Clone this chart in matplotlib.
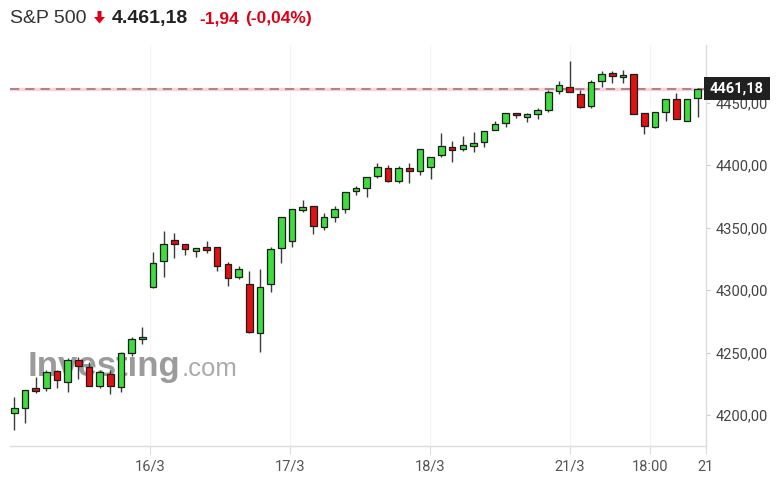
import matplotlib
matplotlib.use("Agg")
import matplotlib.pyplot as plt
from matplotlib.patches import Rectangle, Polygon
import matplotlib.transforms as mtransforms

# ---- data ----
opens = [4201.6, 4205.6, 4221.8, 4222.1, 4235.2, 4226.4, 4244.0, 4238.4, 4223.4, 4233.0,
         4222.4, 4249.6, 4260.8, 4302.4, 4323.7, 4340.0, 4336.8, 4331.7, 4334.6, 4334.9,
         4320.8, 4310.4, 4304.8, 4265.6, 4304.8, 4333.6, 4339.7, 4364.2, 4367.7, 4350.4,
         4358.4, 4365.3, 4379.4, 4381.6, 4391.4, 4397.6, 4387.4, 4397.8, 4395.7, 4398.4,
         4408.2, 4414.9, 4413.3, 4415.2, 4418.6, 4428.2, 4433.6, 4441.8, 4438.6, 4440.8,
         4444.2, 4459.7, 4462.6, 4456.8, 4447.4, 4467.7, 4473.6, 4470.4, 4472.8, 4441.6,
         4430.4, 4442.4, 4452.8, 4435.7, 4453.6]
highs = [4214.4, 4220.2, 4230.4, 4236.0, 4236.0, 4246.1, 4246.9, 4242.9, 4236.2, 4236.2,
         4249.6, 4262.9, 4270.4, 4330.4, 4347.4, 4345.6, 4336.8, 4334.1, 4339.4, 4334.9,
         4322.4, 4319.2, 4315.4, 4316.8, 4334.9, 4358.9, 4364.8, 4372.2, 4367.7, 4361.6,
         4367.4, 4378.9, 4383.4, 4390.9, 4401.6, 4400.2, 4399.0, 4401.6, 4412.8, 4406.9,
         4425.6, 4419.4, 4423.4, 4426.6, 4427.7, 4435.4, 4441.6, 4441.8, 4442.1, 4446.1,
         4460.2, 4467.7, 4483.4, 4460.2, 4468.2, 4475.7, 4475.7, 4476.5, 4472.8, 4441.6,
         4442.9, 4452.8, 4457.6, 4452.8, 4461.6]
lows = [4188.2, 4194.1, 4218.1, 4219.7, 4221.6, 4218.9, 4228.8, 4223.5, 4221.6, 4217.0,
        4218.9, 4247.4, 4256.8, 4301.6, 4310.9, 4326.1, 4328.2, 4326.9, 4330.1, 4315.7,
        4303.7, 4308.8, 4265.6, 4250.9, 4298.9, 4322.1, 4334.9, 4362.9, 4345.0, 4348.2,
        4354.9, 4362.1, 4376.2, 4374.9, 4389.6, 4386.9, 4386.0, 4386.1, 4392.2, 4388.8,
        4406.9, 4402.9, 4411.7, 4410.9, 4414.9, 4428.2, 4430.9, 4437.6, 4434.9, 4436.8,
        4442.9, 4457.0, 4458.4, 4445.6, 4445.6, 4462.4, 4466.1, 4466.1, 4440.8, 4424.8,
        4429.6, 4435.7, 4436.8, 4435.7, 4438.9]
closes = [4205.8, 4220.0, 4219.4, 4234.6, 4228.2, 4244.0, 4239.7, 4223.7, 4234.9, 4223.7,
          4249.6, 4260.8, 4262.9, 4321.6, 4336.8, 4336.8, 4332.8, 4334.1, 4332.5, 4319.7,
          4309.6, 4317.0, 4266.9, 4302.9, 4333.0, 4358.9, 4364.8, 4366.9, 4351.4, 4358.4,
          4364.8, 4378.9, 4381.8, 4390.9, 4398.9, 4387.4, 4397.6, 4395.7, 4412.8, 4406.9,
          4415.7, 4412.5, 4416.0, 4418.1, 4427.7, 4432.8, 4441.6, 4440.0, 4441.0, 4444.0,
          4458.6, 4464.0, 4458.4, 4446.9, 4466.9, 4472.8, 4471.7, 4472.5, 4441.0, 4431.4,
          4442.9, 4452.8, 4436.8, 4452.8, 4461.18]

x_tick_index = [12.7, 25.8, 38.9, 52.0, 59.5, 64.75]
x_tick_labels = ["16/3", "17/3", "18/3", "21/3", "18:00", "21"]
y_ticks = [4200, 4250, 4300, 4350, 4400, 4450]

last_price = 4461.18
header_name = "S&P 500"
header_price = "4.461,18"
header_change = "-1,94"
header_pct = "(-0,04%)"

# ---- figure ----
W, H = 777, 499
fig = plt.figure(figsize=(W / 100, H / 100), dpi=100)
fig.patch.set_facecolor("white")

left, right, top, bottom = 10, 706, 45, 446
ax = fig.add_axes([left / W, 1 - bottom / H, (right - left) / W, (bottom - top) / H])
ax.set_facecolor("white")

n = len(closes)
ax.set_xlim(-0.4, 64.77)
ax.set_ylim(4175.4, 4496.2)

GREEN = "#3fdc3f"
RED = "#de1212"

for i in range(n):
    o, h, l, c = opens[i], highs[i], lows[i], closes[i]
    up = c >= o
    ax.vlines(i, l, h, color="#3a3a3a", lw=1.0, zorder=3)
    lo_b, hi_b = min(o, c), max(o, c)
    if hi_b - lo_b < 1.8:
        mid = (hi_b + lo_b) / 2
        lo_b, hi_b = mid - 0.9, mid + 0.9
    ax.add_patch(Rectangle((i - 0.31, lo_b), 0.62, hi_b - lo_b,
                           facecolor=GREEN if up else RED, edgecolor="#1c1c1c",
                           lw=0.9, zorder=4))

# last price line
ax.axhline(last_price, color="#f6d4da", lw=2.4, zorder=2)
ax.axhline(last_price, color="#9c6c76", lw=1.1, dashes=(6, 4), zorder=2)

# faint vertical grid at ticks
for xv in x_tick_index[:-1]:
    ax.axvline(xv, color="#f5f5f5", lw=0.8, zorder=1)

# axes styling
for s in ["left", "top"]:
    ax.spines[s].set_visible(False)
for s in ["right", "bottom"]:
    ax.spines[s].set_color("#dcdcdc")
    ax.spines[s].set_linewidth(1.0)

ax.yaxis.tick_right()
ax.set_yticks(y_ticks)
ax.set_yticklabels([f"{v:.2f}".replace(".", ",") for v in y_ticks])
ax.tick_params(axis="y", length=3, color="#cccccc", pad=4, labelsize=10.5,
               labelcolor="#444444")
for t in ax.get_yticklabels():
    t.set_fontfamily("Roboto")

ax.set_xticks(x_tick_index)
ax.set_xticklabels(x_tick_labels)
ax.tick_params(axis="x", length=6, color="#dcdcdc", pad=4, labelsize=10.5,
               labelcolor="#555555")
for t in ax.get_xticklabels():
    t.set_fontfamily("Roboto")

# watermark
ax.text(0.026, 0.175, "Investing", transform=ax.transAxes, fontsize=25, fontweight="bold",
        family="Liberation Sans", color="#7a7a7a", alpha=0.75, zorder=2.5, va="baseline")
ax.text(0.247, 0.175, ".com", transform=ax.transAxes, fontsize=18.5,
        family="Liberation Sans", color="#8f8f8f", alpha=0.75, zorder=2.5, va="baseline")

# price label box on right axis
blend = mtransforms.blended_transform_factory(fig.transFigure, ax.transData)
box_h = 23 / 1.25
fig.add_artist(Rectangle((704 / W, last_price - box_h / 2), 66 / W, box_h,
                         transform=blend, facecolor="#202020", edgecolor="none",
                         zorder=5, clip_on=False))
fig.text(737 / W, last_price, "4461,18", transform=blend, color="white",
         fontsize=10.5, fontweight="bold", family="Roboto", ha="center", va="center",
         zorder=6)

# header
def fx(x):
    return x / W

def fy(y):
    return 1 - y / H

fig.text(fx(10), fy(23), header_name, fontsize=14, color="#333333",
         family="Liberation Sans", va="baseline")
arrow = [(97.5, 11), (101.5, 11), (101.5, 17), (105, 17), (99.5, 23.5), (94, 17), (97.5, 17)]
fig.add_artist(Polygon([(fx(a), fy(b)) for a, b in arrow], closed=True,
                       transform=fig.transFigure, facecolor="#e00016", edgecolor="none"))
fig.text(fx(112), fy(23), header_price, fontsize=14, fontweight="bold", color="#222222",
         family="Liberation Sans", va="baseline")
fig.text(fx(199), fy(23), header_change, fontsize=12.5, fontweight="bold", color="#e00016",
         family="Liberation Sans", va="baseline")
fig.text(fx(245), fy(23), header_pct, fontsize=12.5, fontweight="bold", color="#e00016",
         family="Liberation Sans", va="baseline")

fig.savefig("out.png", dpi=100, facecolor="white")
